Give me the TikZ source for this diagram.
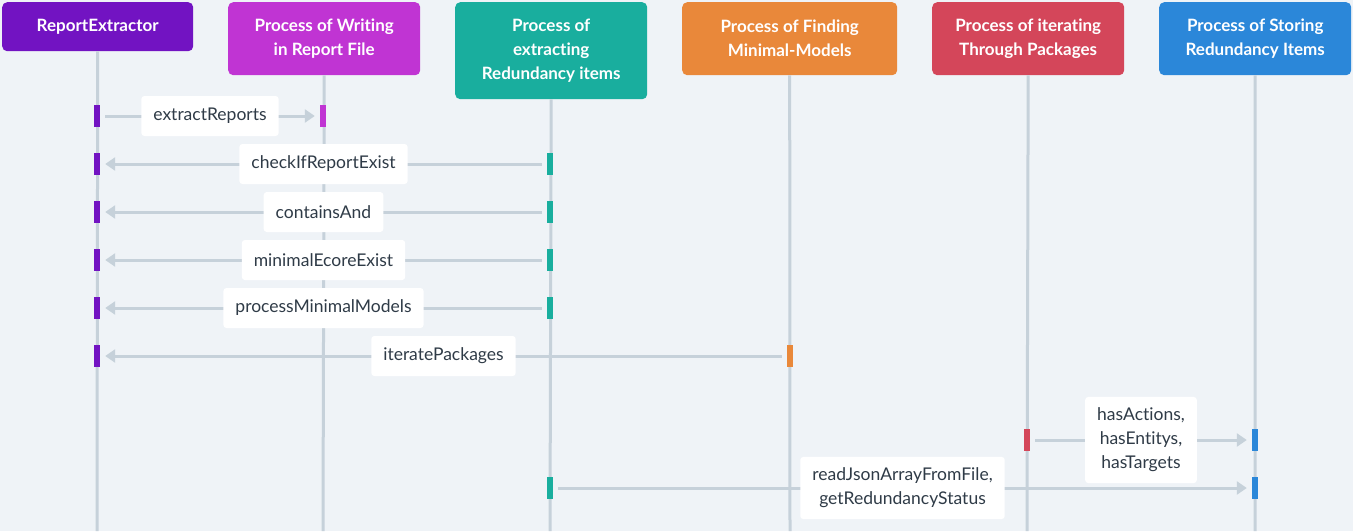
\documentclass[tikz,border=0pt]{standalone}
\usepackage{fontspec}
\setmainfont{Lato}[Ligatures={NoCommon}]
\usetikzlibrary{arrows.meta}
\definecolor{bg}{HTML}{EFF3F7}
\definecolor{cPurple}{HTML}{7213C2}
\definecolor{cMagenta}{HTML}{C034D3}
\definecolor{cTeal}{HTML}{19AE9E}
\definecolor{cOrange}{HTML}{E9883A}
\definecolor{cRed}{HTML}{D4465A}
\definecolor{cBlue}{HTML}{2B87D9}
\definecolor{lifec}{HTML}{C6D1DA}
\definecolor{txt}{HTML}{2F3B47}
\tikzset{
  hdr/.style={anchor=north west, rounded corners=5pt, text=white, align=center,
    font=\fontsize{17}{24}\selectfont\bfseries, inner sep=0pt, minimum width=192pt},
  life/.style={draw=lifec, line width=3pt},
  actbar/.style={minimum width=6pt, minimum height=22pt, inner sep=0pt, draw=none},
  msg/.style={draw=lifec, line width=3pt, -{Triangle[length=10pt,width=13pt]},
    shorten <=5pt, shorten >=5pt},
  lbl/.style={fill=white, rounded corners=3pt, text=txt, align=center,
    font=\fontsize{17.5}{24}\selectfont, inner xsep=12pt, inner ysep=11pt, minimum height=40pt}
}
\begin{document}
\begin{tikzpicture}[x=1pt,y=-1pt]
\fill[bg] (0,0) rectangle (1353,531);
\useasboundingbox (0,0) rectangle (1353,531);
% participants
\node[hdr, fill=cPurple, minimum width=191pt, minimum height=49pt] (p1) at (2,2) {ReportExtractor};
\node[hdr, fill=cMagenta, minimum height=73pt] (p2) at (228,2) {Process of Writing\\in Report File};
\node[hdr, fill=cTeal, minimum height=97pt] (p3) at (455,2) {Process of\\extracting\\Redundancy items};
\node[hdr, fill=cOrange, minimum width=215pt, minimum height=73pt] (p4) at (682,2) {Process of Finding\\Minimal-Models};
\node[hdr, fill=cRed, minimum height=73pt] (p5) at (932,2) {Process of iterating\\Through Packages};
\node[hdr, fill=cBlue, minimum height=73pt] (p6) at (1159,2) {Process of Storing\\Redundancy Items};
% lifeline ends
\coordinate (e1) at (97,531);
\coordinate (e2) at (323,531);
\coordinate (e3) at (550,531);
\coordinate (e4) at (790,531);
\coordinate (e5) at (1027,531);
\coordinate (e6) at (1255,531);
\draw[life] (p1.south) -- (e1);
\draw[life] (p2.south) -- (e2);
\draw[life] (p3.south) -- (e3);
\draw[life] (p4.south) -- (e4);
\draw[life] (p5.south) -- (e5);
\draw[life] (p6.south) -- (e6);
% activation bars
\node[actbar, fill=cPurple] (a1s) at (97,116) {};
\node[actbar, fill=cMagenta] (a1t) at (323,116) {};
\node[actbar, fill=cTeal] (a2s) at (550,164) {};
\node[actbar, fill=cPurple] (a2t) at (97,164) {};
\node[actbar, fill=cTeal] (a3s) at (550,212) {};
\node[actbar, fill=cPurple] (a3t) at (97,212) {};
\node[actbar, fill=cTeal] (a4s) at (550,260) {};
\node[actbar, fill=cPurple] (a4t) at (97,260) {};
\node[actbar, fill=cTeal] (a5s) at (550,308) {};
\node[actbar, fill=cPurple] (a5t) at (97,308) {};
\node[actbar, fill=cOrange] (a6s) at (790,356) {};
\node[actbar, fill=cPurple] (a6t) at (97,356) {};
\node[actbar, fill=cRed] (a7s) at (1027,440) {};
\node[actbar, fill=cBlue] (a7t) at (1255,440) {};
\node[actbar, fill=cTeal] (a8s) at (550,488) {};
\node[actbar, fill=cBlue] (a8t) at (1255,488) {};
% messages
\draw[msg] (a1s.east) -- node[lbl] {extractReports} (a1t.west);
\draw[msg] (a2s.west) -- node[lbl] {checkIfReportExist} (a2t.east);
\draw[msg] (a3s.west) -- node[lbl] {containsAnd} (a3t.east);
\draw[msg] (a4s.west) -- node[lbl] {minimalEcoreExist} (a4t.east);
\draw[msg] (a5s.west) -- node[lbl] {processMinimalModels} (a5t.east);
\draw[msg] (a6s.west) -- node[lbl] {iteratePackages} (a6t.east);
\draw[msg] (a7s.east) -- node[lbl] {hasActions,\\hasEntitys,\\hasTargets} (a7t.west);
\draw[msg] (a8s.east) -- node[lbl] {readJsonArrayFromFile,\\getRedundancyStatus} (a8t.west);
\end{tikzpicture}
\end{document}
